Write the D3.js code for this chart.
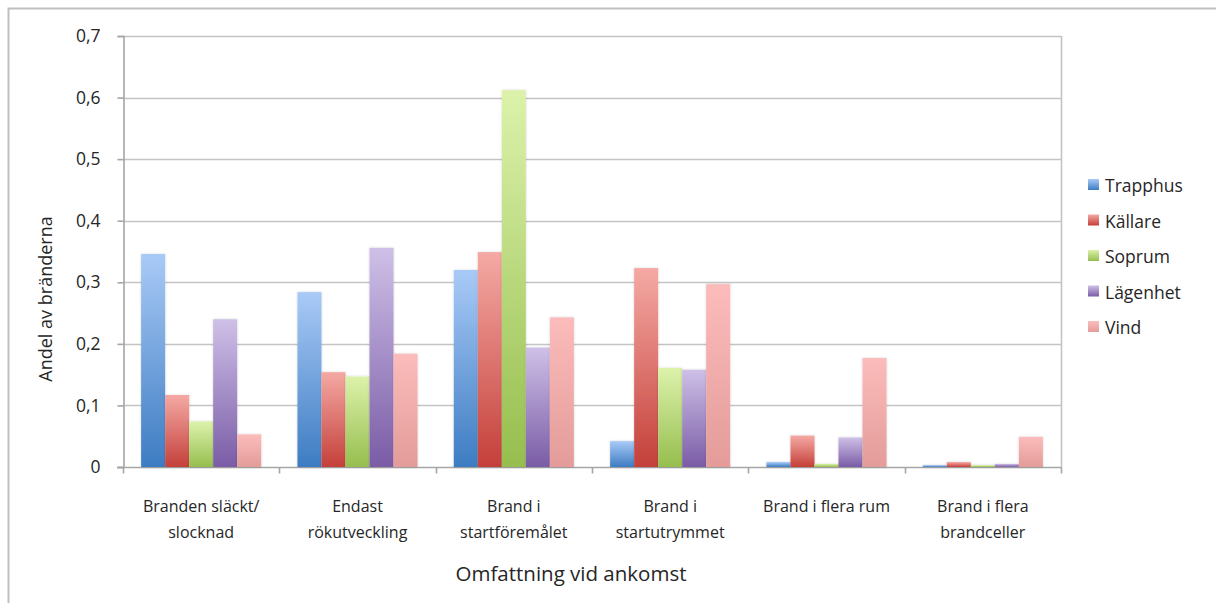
<!DOCTYPE html>
<html>
<head>
<meta charset="utf-8">
<script src="https://cdn.jsdelivr.net/npm/d3@7"></script>
<style>
html,body{margin:0;padding:0;background:#fff;}
svg{display:block;}
text{font-family:"Open Sans",sans-serif;fill:#262626;}
</style>
</head>
<body>
<svg id="chart" width="1216" height="603"></svg>
<script>
const categories = [
  ["Branden släckt/", "slocknad"],
  ["Endast", "rökutveckling"],
  ["Brand i", "startföremålet"],
  ["Brand i", "startutrymmet"],
  ["Brand i flera rum"],
  ["Brand i flera", "brandceller"]
];
const seriesNames = ["Trapphus", "Källare", "Soprum", "Lägenhet", "Vind"];
const trapphus = [0.346, 0.284, 0.320, 0.042, 0.008, 0.003];
const kallare  = [0.117, 0.154, 0.349, 0.323, 0.051, 0.008];
const soprum   = [0.074, 0.147, 0.612, 0.161, 0.005, 0.003];
const lagenhet = [0.240, 0.356, 0.194, 0.158, 0.048, 0.005];
const vind     = [0.053, 0.184, 0.243, 0.297, 0.177, 0.049];
const yTicks = [0, 0.1, 0.2, 0.3, 0.4, 0.5, 0.6, 0.7];
const yTitle = "Andel av bränderna";
const xTitle = "Omfattning vid ankomst";

(function() {
const seriesValues = [trapphus, kallare, soprum, lagenhet, vind];
const colorsTop = ["#a9caf7", "#f5a9a4", "#dcf2ab", "#cec0e7", "#fbbcbb"];
const colorsBottom = ["#3d7cc2", "#c4403a", "#96be4e", "#7a5ca6", "#e39c99"];

const svg = d3.select("#chart");
const defs = svg.append("defs");
seriesNames.forEach((s, i) => {
  const g = defs.append("linearGradient").attr("id", "grad" + i)
    .attr("x1", 0).attr("y1", 0).attr("x2", 0).attr("y2", 1);
  g.append("stop").attr("offset", "0%").attr("stop-color", colorsTop[i]);
  g.append("stop").attr("offset", "100%").attr("stop-color", colorsBottom[i]);
});
const f = defs.append("filter").attr("id", "shadow").attr("x", "-20%").attr("y", "-5%").attr("width", "140%").attr("height", "110%");
f.append("feDropShadow").attr("dx", 0).attr("dy", 0).attr("stdDeviation", 1.2).attr("flood-color", "#000").attr("flood-opacity", 0.18);

// outer frame
svg.append("path").attr("d", "M8.5,603 L8.5,8.5 L1216,8.5")
  .attr("fill", "none").attr("stroke", "#bfbfbf").attr("stroke-width", 2);

const pLeft = 123, pRight = 1061, pTop = 36, pBottom = 467;
const x0 = d3.scaleBand().domain(d3.range(categories.length)).range([pLeft, pRight])
  .paddingInner(0.232).paddingOuter(0.116);
const x1 = d3.scaleBand().domain(d3.range(seriesNames.length)).range([0, x0.bandwidth()]);
const y = d3.scaleLinear().domain([0, 0.7]).range([pBottom, pTop]);

const loc = d3.formatLocale({decimal: ",", thousands: " ", grouping: [3], currency: ["", ""]});
const fmt = v => v === 0 ? "0" : loc.format(".1f")(v);

// gridlines
svg.append("g").selectAll("line").data(yTicks.filter(t => t > 0)).join("line")
  .attr("x1", pLeft).attr("x2", pRight)
  .attr("y1", d => Math.round(y(d)) + 0.5).attr("y2", d => Math.round(y(d)) + 0.5)
  .attr("stroke", "#c4c4c4").attr("stroke-width", 1.6);
svg.append("line").attr("x1", pRight + 0.5).attr("x2", pRight + 0.5).attr("y1", pTop).attr("y2", pBottom)
  .attr("stroke", "#c4c4c4").attr("stroke-width", 1.6);

// y axis
const yAxis = svg.append("g").attr("transform", `translate(${pLeft + 0.5},0)`)
  .call(d3.axisLeft(y).tickValues(yTicks).tickFormat(fmt).tickSize(6).tickPadding(17));
yAxis.select(".domain").attr("stroke", "#a6a6a6").attr("stroke-width", 1.6);
yAxis.selectAll(".tick line").attr("stroke", "#a6a6a6").attr("stroke-width", 1.6);
yAxis.selectAll("text").style("font-family", '"Open Sans",sans-serif').style("font-size", "17.5px").attr("fill", "#262626");

// x axis
const xAxis = svg.append("g").attr("transform", `translate(0,${pBottom + 0.5})`);
xAxis.append("line").attr("x1", pLeft - 6).attr("x2", pRight + 1).attr("y1", 0).attr("y2", 0)
  .attr("stroke", "#a6a6a6").attr("stroke-width", 1.6);
const boundaries = d3.range(categories.length + 1).map(i => i === categories.length ? pRight : x0(i) - x0.step() * x0.paddingInner() / 2);
xAxis.selectAll("line.tk").data(boundaries).join("line").attr("class", "tk")
  .attr("x1", d => Math.round(d) + 0.5).attr("x2", d => Math.round(d) + 0.5).attr("y1", 0).attr("y2", 6)
  .attr("stroke", "#a6a6a6").attr("stroke-width", 1.6);

// category labels
const catG = svg.append("g");
categories.forEach((lines, i) => {
  const cx = x0(i) + x0.bandwidth() / 2;
  const t = catG.append("text").attr("text-anchor", "middle")
    .attr("x", cx).attr("y", 512).style("font-size", "16px");
  lines.forEach((ln, j) => t.append("tspan").attr("x", cx).attr("dy", j === 0 ? 0 : 26).text(ln));
});

// bars
const groups = svg.append("g").selectAll("g").data(seriesNames).join("g")
  .attr("fill", (d, i) => `url(#grad${i})`).attr("filter", "url(#shadow)");
groups.each(function(s, si) {
  d3.select(this).selectAll("rect").data(seriesValues[si]).join("rect")
    .attr("x", (d, ci) => x0(ci) + x1(si))
    .attr("width", x1.bandwidth())
    .attr("y", d => y(d))
    .attr("height", d => y(0) - y(d));
});

// titles
svg.append("text").attr("transform", "translate(52,299) rotate(-90)")
  .attr("text-anchor", "middle").style("font-size", "18px").text(yTitle);
svg.append("text").attr("x", 571).attr("y", 581).attr("text-anchor", "middle")
  .style("font-size", "20.5px").text(xTitle);

// legend
const legend = svg.append("g").attr("transform", "translate(1088,0)");
seriesNames.forEach((s, i) => {
  const yy = 192 + i * 35.5;
  legend.append("rect").attr("x", 0).attr("y", yy - 13).attr("width", 11).attr("height", 11)
    .attr("fill", `url(#grad${i})`);
  legend.append("text").attr("x", 17).attr("y", yy).style("font-size", "17.5px").text(s);
});
})();
</script>
</body>
</html>
